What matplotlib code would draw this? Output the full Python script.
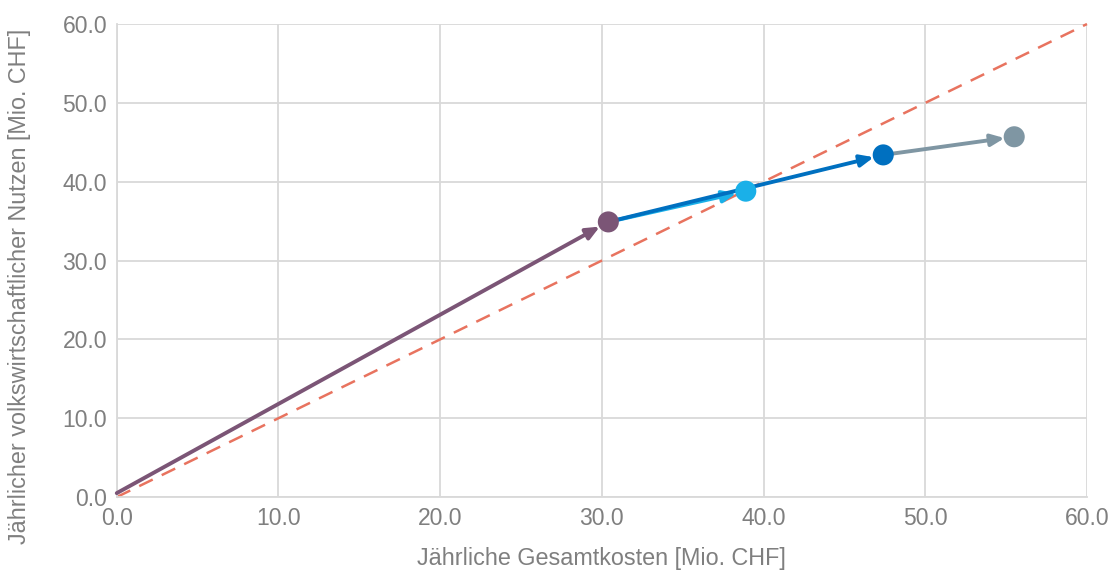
import matplotlib
matplotlib.use("Agg")
import matplotlib.pyplot as plt

# Data
names = ["Start", "A", "B", "C", "D"]
costs = [0.0, 30.4, 38.9, 47.4, 55.5]
benefits = [0.5, 34.9, 38.8, 43.4, 45.7]
point_colors = ["#7B5576", "#1AB0E8", "#0070C0", "#7F96A3"]
# arrows: (from index, to index, color)
arrows = [(0, 1, "#7B5576"), (1, 2, "#1AB0E8"), (1, 3, "#0070C0"), (3, 4, "#7F96A3")]
ref_line = [0.0, 60.0]
ticks = [0, 10, 20, 30, 40, 50, 60]

plt.rcParams['font.family'] = ['Liberation Sans', 'DejaVu Sans']
fig = plt.figure(figsize=(11.12, 5.72), dpi=100)
ax = fig.add_axes([0.105, 0.131, 0.8725, 0.827])

ax.set_xlim(0, 60)
ax.set_ylim(0, 60)
ax.set_xticks(ticks)
ax.set_yticks(ticks)
ax.set_xticklabels([f"{t:.1f}" for t in ticks])
ax.set_yticklabels([f"{t:.1f}" for t in ticks])
ax.grid(True, color="#D9D9D9", linewidth=1.3, zorder=0)
for s in ["top", "right"]:
    ax.spines[s].set_visible(False)
for s in ["left", "bottom"]:
    ax.spines[s].set_color("#D9D9D9")
    ax.spines[s].set_linewidth(1.3)
ax.tick_params(length=0, labelsize=16.5, colors="#7F7F7F", pad=7)
ax.set_axisbelow(True)

ax.plot(ref_line, ref_line, linestyle=(0, (6, 4)), color="#E8735F", linewidth=1.8, zorder=2, clip_on=False)

for i, j, c in arrows:
    ax.annotate("", xy=(costs[j], benefits[j]), xytext=(costs[i], benefits[i]),
                arrowprops=dict(arrowstyle="-|>,head_length=0.8,head_width=0.35", color=c, lw=2.8,
                                shrinkA=0, shrinkB=7), zorder=3)

ax.scatter(costs[1:], benefits[1:], s=230, color=point_colors, zorder=4, edgecolors="none")

ax.set_xlabel("Jährliche Gesamtkosten [Mio. CHF]", fontsize=16.8, color="#7F7F7F")
ax.set_ylabel("Jährlicher volkswirtschaftlicher Nutzen [Mio. CHF]", fontsize=16.8, color="#7F7F7F")
ax.xaxis.set_label_coords(0.5, -0.105)
ax.yaxis.set_label_coords(-0.088, 0.445)

fig.savefig("out.png", dpi=100)
